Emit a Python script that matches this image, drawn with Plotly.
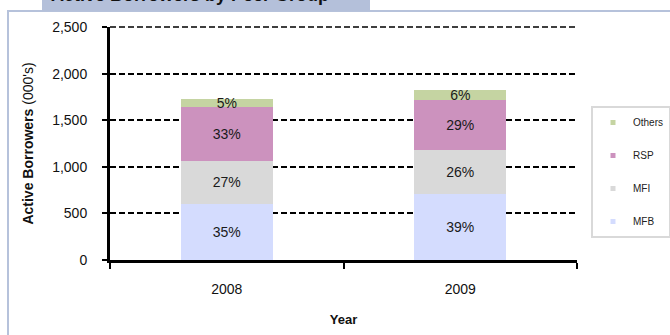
import plotly.graph_objects as go

# Active borrowers (000's) by peer group
years = ["2008", "2009"]
groups = ["MFB", "MFI", "RSP", "Others"]
mfb = [605, 711]
mfi = [460, 474]
rsp = [575, 529]
others = [90, 110]
series = [mfb, mfi, rsp, others]
colors = ["#D4DCFE", "#D9D9D9", "#CC92BE", "#C5D4A2"]
y_ticks = [0, 500, 1000, 1500, 2000, 2500]

totals = [sum(s[i] for s in series) for i in range(len(years))]

W, H = 670, 335
L, R, T, B = 110, 577, 27, 260  # plot area in pixels


def px(x):
    return (x - L) / (R - L)


def py(y):
    return (B - y) / (B - T)


FONT = "Liberation Sans, Arial, sans-serif"

fig = go.Figure()
for name, vals, col in zip(groups, series, colors):
    labels = [f"{round(v / t * 100)}%" for v, t in zip(vals, totals)]
    fig.add_trace(go.Bar(
        x=years, y=vals, name=name, marker=dict(color=col, line=dict(width=0)),
        text=labels, textposition="inside", insidetextanchor="middle",
        constraintext="none", textangle=0,
        textfont=dict(family=FONT, size=14, color="#1a1a1a"),
        showlegend=False, legendgroup=name, hoverinfo="x+y+name",
    ))

# small square legend keys, top of the stack listed first
for name, col in reversed(list(zip(groups, colors))):
    fig.add_trace(go.Scatter(
        x=[None], y=[None], mode="markers", name=name, legendgroup=name,
        marker=dict(symbol="square", size=5, color=col),
    ))

shapes = [
    # top gridline along the upper edge of the plot area (range max)
    dict(type="line", xref="paper", yref="paper", x0=0, x1=1, y0=1, y1=1,
         line=dict(color="black", width=1.5, dash="6px,3px"), layer="below"),
    # outer frame
    dict(type="line", xref="paper", yref="paper", x0=px(8), x1=px(8), y0=py(10), y1=py(340),
         line=dict(color="#B6C2DB", width=2)),
    dict(type="line", xref="paper", yref="paper", x0=px(7), x1=px(675), y0=py(11), y1=py(11),
         line=dict(color="#B6C2DB", width=2)),
    # title tab
    dict(type="rect", xref="paper", yref="paper", x0=px(42), x1=px(370), y0=py(-5), y1=py(11),
         fillcolor="#B4C0DA", line=dict(width=0)),
]
for s in shapes:
    fig.add_shape(**s)

fig.update_layout(
    width=W, height=H,
    margin=dict(l=L, r=W - R, t=T, b=H - B, pad=0, autoexpand=False),
    paper_bgcolor="white", plot_bgcolor="white",
    barmode="stack", bargap=0.606,
    font=dict(family=FONT, size=14, color="#111111"),
    annotations=[dict(
        text="<b>Active Borrowers by Peer Group</b>", xref="paper", yref="paper",
        x=px(49), y=py(-5), xanchor="left", yanchor="middle", showarrow=False,
        font=dict(family=FONT, size=18, color="#111111"),
    )],
    legend=dict(
        x=px(591), y=py(106), xanchor="left", yanchor="top",
        bordercolor="#D9D9D9", borderwidth=2, bgcolor="white",
        font=dict(family=FONT, size=10, color="#222222"),
        traceorder="grouped", tracegroupgap=14,
    ),
    xaxis=dict(
        showline=True, linecolor="black", linewidth=3,
        ticks="outside", ticklen=6, tickwidth=2, tickcolor="black",
        tickson="boundaries", ticklabelstandoff=14,
        showgrid=False, tickfont=dict(size=14),
        title=dict(text="<b>Year</b>", font=dict(size=13), standoff=20),
    ),
    yaxis=dict(
        range=[0, 2500], tickvals=y_ticks, tickformat=",d",
        showline=True, linecolor="black", linewidth=3,
        ticks="outside", ticklen=5, tickwidth=2, tickcolor="black",
        ticklabelstandoff=12,
        showgrid=True, gridcolor="black", gridwidth=1.5, griddash="6px,3px",
        zeroline=False, tickfont=dict(size=14),
        title=dict(text="<b>Active Borrowers</b> (000's)", font=dict(size=14), standoff=16),
    ),
)

fig.write_html("out.html")
